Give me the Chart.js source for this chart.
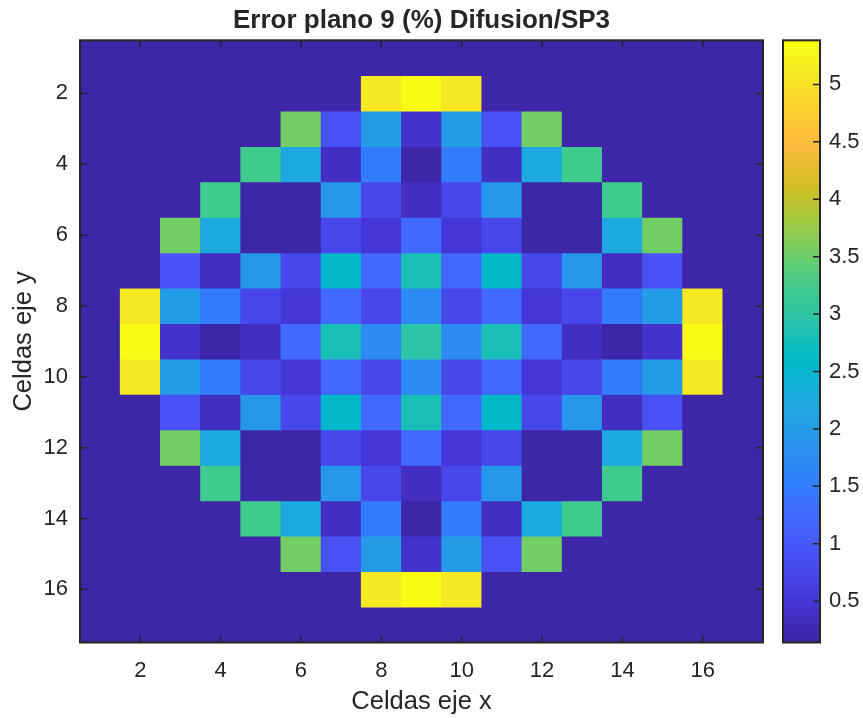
<!DOCTYPE html>
<html>
<head>
<meta charset="utf-8">
<title>Error plano 9 (%) Difusion/SP3</title>
<script src="https://cdn.jsdelivr.net/npm/chart.js@4.4.1/dist/chart.umd.min.js"></script>
<style>
  html, body { margin: 0; padding: 0; background: #fff; }
  #wrap { position: relative; width: 863px; height: 718px; }
  #wrap canvas { position: absolute; top: 0; }
  #heat { left: 0; }
  #cbar { left: 763px; }
</style>
</head>
<body>
<div id="wrap">
  <canvas id="heat" width="863" height="718"></canvas>
  <canvas id="cbar" width="100" height="718"></canvas>
</div>
<script>
// cell indices along both axes
const cells = [1, 2, 3, 4, 5, 6, 7, 8, 9, 10, 11, 12, 13, 14, 15, 16, 17];
const axisTicks = [2, 4, 6, 8, 10, 12, 14, 16];
const cbarTicks = [0.5, 1, 1.5, 2, 2.5, 3, 3.5, 4, 4.5, 5];
const colorLimits = [0.14, 5.384];

// error (%) per cell, one array per row (eje y), columns follow eje x
const errPlane9 = [
  [0.14, 0.14, 0.14, 0.14, 0.14, 0.14, 0.14, 0.14, 0.14, 0.14, 0.14, 0.14, 0.14, 0.14, 0.14, 0.14, 0.14],
  [0.14, 0.14, 0.14, 0.14, 0.14, 0.14, 0.14, 5.10, 5.38, 5.10, 0.14, 0.14, 0.14, 0.14, 0.14, 0.14, 0.14],
  [0.14, 0.14, 0.14, 0.14, 0.14, 3.54, 0.92, 2.00, 0.45, 2.00, 0.92, 3.54, 0.14, 0.14, 0.14, 0.14, 0.14],
  [0.14, 0.14, 0.14, 0.14, 3.20, 2.23, 0.36, 1.49, 0.20, 1.49, 0.36, 2.23, 3.20, 0.14, 0.14, 0.14, 0.14],
  [0.14, 0.14, 0.14, 3.20, 0.22, 0.22, 1.90, 0.75, 0.37, 0.75, 1.90, 0.22, 0.22, 3.20, 0.14, 0.14, 0.14],
  [0.14, 0.14, 3.54, 2.23, 0.22, 0.16, 0.75, 0.51, 1.24, 0.51, 0.75, 0.16, 0.22, 2.23, 3.54, 0.14, 0.14],
  [0.14, 0.14, 0.92, 0.36, 1.90, 0.75, 2.56, 1.24, 2.82, 1.24, 2.56, 0.75, 1.90, 0.36, 0.92, 0.14, 0.14],
  [0.14, 5.10, 2.00, 1.49, 0.75, 0.51, 1.24, 0.75, 1.74, 0.75, 1.24, 0.51, 0.75, 1.49, 2.00, 5.10, 0.14],
  [0.14, 5.38, 0.45, 0.20, 0.37, 1.24, 2.82, 1.74, 2.97, 1.74, 2.82, 1.24, 0.37, 0.20, 0.45, 5.38, 0.14],
  [0.14, 5.10, 2.00, 1.49, 0.75, 0.51, 1.24, 0.75, 1.74, 0.75, 1.24, 0.51, 0.75, 1.49, 2.00, 5.10, 0.14],
  [0.14, 0.14, 0.92, 0.36, 1.90, 0.75, 2.56, 1.24, 2.82, 1.24, 2.56, 0.75, 1.90, 0.36, 0.92, 0.14, 0.14],
  [0.14, 0.14, 3.54, 2.23, 0.22, 0.16, 0.75, 0.51, 1.24, 0.51, 0.75, 0.16, 0.22, 2.23, 3.54, 0.14, 0.14],
  [0.14, 0.14, 0.14, 3.20, 0.22, 0.22, 1.90, 0.75, 0.37, 0.75, 1.90, 0.22, 0.22, 3.20, 0.14, 0.14, 0.14],
  [0.14, 0.14, 0.14, 0.14, 3.20, 2.23, 0.36, 1.49, 0.20, 1.49, 0.36, 2.23, 3.20, 0.14, 0.14, 0.14, 0.14],
  [0.14, 0.14, 0.14, 0.14, 0.14, 3.54, 0.92, 2.00, 0.45, 2.00, 0.92, 3.54, 0.14, 0.14, 0.14, 0.14, 0.14],
  [0.14, 0.14, 0.14, 0.14, 0.14, 0.14, 0.14, 5.10, 5.38, 5.10, 0.14, 0.14, 0.14, 0.14, 0.14, 0.14, 0.14],
  [0.14, 0.14, 0.14, 0.14, 0.14, 0.14, 0.14, 0.14, 0.14, 0.14, 0.14, 0.14, 0.14, 0.14, 0.14, 0.14, 0.14]
];

// parula, 64 entries
const PARULA = [
  [0.2422, 0.1504, 0.6603], [0.2504, 0.1650, 0.7076], [0.2578, 0.1818, 0.7511], [0.2647, 0.1978, 0.7952],
  [0.2706, 0.2147, 0.8364], [0.2751, 0.2342, 0.8710], [0.2783, 0.2559, 0.8991], [0.2803, 0.2782, 0.9221],
  [0.2813, 0.3006, 0.9414], [0.2810, 0.3228, 0.9579], [0.2795, 0.3447, 0.9717], [0.2760, 0.3667, 0.9829],
  [0.2699, 0.3892, 0.9906], [0.2602, 0.4123, 0.9952], [0.2440, 0.4358, 0.9988], [0.2206, 0.4603, 0.9973],
  [0.1963, 0.4847, 0.9892], [0.1834, 0.5074, 0.9798], [0.1786, 0.5289, 0.9682], [0.1764, 0.5499, 0.9520],
  [0.1687, 0.5703, 0.9359], [0.1540, 0.5902, 0.9218], [0.1460, 0.6091, 0.9079], [0.1380, 0.6276, 0.8973],
  [0.1248, 0.6459, 0.8883], [0.1113, 0.6635, 0.8763], [0.0952, 0.6798, 0.8598], [0.0689, 0.6948, 0.8394],
  [0.0297, 0.7082, 0.8163], [0.0036, 0.7203, 0.7917], [0.0067, 0.7312, 0.7660], [0.0433, 0.7411, 0.7394],
  [0.0964, 0.7500, 0.7120], [0.1408, 0.7584, 0.6842], [0.1717, 0.7670, 0.6554], [0.1938, 0.7758, 0.6251],
  [0.2161, 0.7843, 0.5923], [0.2470, 0.7918, 0.5567], [0.2906, 0.7973, 0.5188], [0.3406, 0.8008, 0.4789],
  [0.3909, 0.8029, 0.4354], [0.4456, 0.8024, 0.3909], [0.5044, 0.7993, 0.3480], [0.5616, 0.7942, 0.3045],
  [0.6174, 0.7876, 0.2612], [0.6720, 0.7793, 0.2227], [0.7242, 0.7698, 0.1910], [0.7738, 0.7598, 0.1646],
  [0.8203, 0.7498, 0.1535], [0.8634, 0.7406, 0.1596], [0.9035, 0.7330, 0.1774], [0.9393, 0.7288, 0.2100],
  [0.9728, 0.7298, 0.2394], [0.9956, 0.7434, 0.2371], [0.9970, 0.7659, 0.2199], [0.9952, 0.7893, 0.2028],
  [0.9892, 0.8136, 0.1885], [0.9786, 0.8386, 0.1766], [0.9676, 0.8639, 0.1643], [0.9610, 0.8890, 0.1537],
  [0.9597, 0.9135, 0.1423], [0.9628, 0.9373, 0.1265], [0.9691, 0.9606, 0.1064], [0.9769, 0.9839, 0.0805]
];

const INK = '#262626';
const FONT = '"Liberation Sans", Arial, Helvetica, sans-serif';

function rgb(c) {
  return 'rgb(' + c.map(x => Math.round(x * 255)).join(',') + ')';
}

// same binning as a scaled colormap: clim split in 64 equal bins
function parula(v) {
  const [lo, hi] = colorLimits;
  let i = Math.floor((v - lo) / (hi - lo) * PARULA.length);
  i = Math.max(0, Math.min(PARULA.length - 1, i));
  return rgb(PARULA[i]);
}

// one floating-bar dataset per row, each bar covers one cell
const rowSets = errPlane9.map((row, r) => ({
  data: row.map(() => [cells[r] - 0.5, cells[r] + 0.5]),
  backgroundColor: row.map(parula),
  borderWidth: 0,
  grouped: false,
  barPercentage: 1,
  categoryPercentage: 1
}));

// fills the axes with the lowest colour and draws the box + inward ticks
const axesBox = {
  id: 'axesBox',
  beforeDatasetsDraw(chart) {
    const { ctx, chartArea: a } = chart;
    ctx.save();
    ctx.fillStyle = rgb(PARULA[0]);
    ctx.fillRect(a.left, a.top, a.right - a.left, a.bottom - a.top);
    ctx.restore();
  },
  afterDraw(chart) {
    const { ctx, chartArea: a, scales } = chart;
    const len = 7;
    ctx.save();
    ctx.strokeStyle = INK;
    ctx.lineWidth = 1.5;
    ctx.beginPath();
    axisTicks.forEach(v => {
      const x = scales.x.getPixelForValue(cells.indexOf(v));
      ctx.moveTo(x, a.bottom); ctx.lineTo(x, a.bottom - len);
      ctx.moveTo(x, a.top); ctx.lineTo(x, a.top + len);
      const y = scales.y.getPixelForValue(v);
      ctx.moveTo(a.left, y); ctx.lineTo(a.left + len, y);
      ctx.moveTo(a.right, y); ctx.lineTo(a.right - len, y);
    });
    ctx.stroke();
    ctx.lineWidth = 2;
    ctx.strokeRect(a.left, a.top, a.right - a.left, a.bottom - a.top);
    ctx.restore();
  }
};

new Chart(document.getElementById('heat'), {
  type: 'bar',
  data: { labels: cells, datasets: rowSets },
  options: {
    responsive: false,
    animation: false,
    layout: { padding: { left: 0, right: 100, top: 0, bottom: 0 } },
    plugins: {
      legend: { display: false },
      tooltip: { enabled: false },
      title: {
        display: true,
        fullSize: false,
        text: 'Error plano 9 (%) Difusion/SP3',
        color: INK,
        font: { family: FONT, size: 26, weight: 'bold' },
        padding: { top: 5, bottom: 4.1 }
      }
    },
    scales: {
      x: {
        type: 'category',
        offset: true,
        grid: { display: false, drawTicks: false },
        border: { display: false },
        ticks: {
          autoSkip: false,
          maxRotation: 0,
          padding: 15,
          color: INK,
          font: { family: FONT, size: 22 },
          callback: (v, i) => axisTicks.includes(cells[i]) ? String(cells[i]) : ''
        },
        title: {
          display: true,
          text: 'Celdas eje x',
          color: INK,
          font: { family: FONT, size: 25.5 },
          padding: { top: 0, bottom: 1.2 }
        },
        afterFit: s => { s.height = 75.5; }
      },
      y: {
        type: 'linear',
        reverse: true,
        min: 0.5,
        max: 17.5,
        grid: { display: false, drawTicks: false },
        border: { display: false },
        afterBuildTicks: s => { s.ticks = axisTicks.map(v => ({ value: v })); },
        ticks: {
          padding: 12,
          color: INK,
          font: { family: FONT, size: 22 }
        },
        title: {
          display: true,
          text: 'Celdas eje y',
          color: INK,
          font: { family: FONT, size: 25.5 },
          padding: { top: 8.7, bottom: 0 }
        },
        afterFit: s => { s.width = 80; }
      }
    }
  },
  plugins: [axesBox]
});

// colorbar: one bar spanning the colour limits, painted with the colormap
function cbarFill(context) {
  const chart = context.chart;
  if (!chart.chartArea) return rgb(PARULA[0]);
  const y = chart.scales.y;
  const y0 = y.getPixelForValue(colorLimits[0]);
  const y1 = y.getPixelForValue(colorLimits[1]);
  const g = chart.ctx.createLinearGradient(0, y0, 0, y1);
  PARULA.forEach((c, i) => g.addColorStop((i + 0.5) / PARULA.length, rgb(c)));
  g.addColorStop(0, rgb(PARULA[0]));
  g.addColorStop(1, rgb(PARULA[PARULA.length - 1]));
  return g;
}

const cbarTickMarks = {
  id: 'cbarTickMarks',
  afterDraw(chart) {
    const { ctx, chartArea: a, scales } = chart;
    ctx.save();
    ctx.strokeStyle = INK;
    ctx.lineWidth = 1.5;
    ctx.beginPath();
    cbarTicks.forEach(v => {
      const y = scales.y.getPixelForValue(v);
      ctx.moveTo(a.right, y);
      ctx.lineTo(a.right - 7, y);
    });
    ctx.stroke();
    ctx.lineWidth = 2;
    ctx.strokeRect(a.left, a.top, a.right - a.left, a.bottom - a.top);
    ctx.restore();
  }
};

new Chart(document.getElementById('cbar'), {
  type: 'bar',
  data: {
    labels: [''],
    datasets: [{
      data: [colorLimits],
      backgroundColor: cbarFill,
      borderWidth: 0,
      barPercentage: 1,
      categoryPercentage: 1
    }]
  },
  options: {
    responsive: false,
    animation: false,
    layout: { padding: { left: 20, right: 0, top: 40.3, bottom: 75.5 } },
    plugins: { legend: { display: false }, tooltip: { enabled: false } },
    scales: {
      x: { display: false, offset: true },
      y: {
        position: 'right',
        min: colorLimits[0],
        max: colorLimits[1],
        grid: { display: false, drawTicks: false },
        border: { display: false },
        afterBuildTicks: s => { s.ticks = cbarTicks.map(v => ({ value: v })); },
        ticks: {
          padding: 9,
          color: INK,
          font: { family: FONT, size: 22 },
          callback: v => String(v)
        },
        afterFit: s => { s.width = 43; }
      }
    }
  },
  plugins: [cbarTickMarks]
});
</script>
</body>
</html>
